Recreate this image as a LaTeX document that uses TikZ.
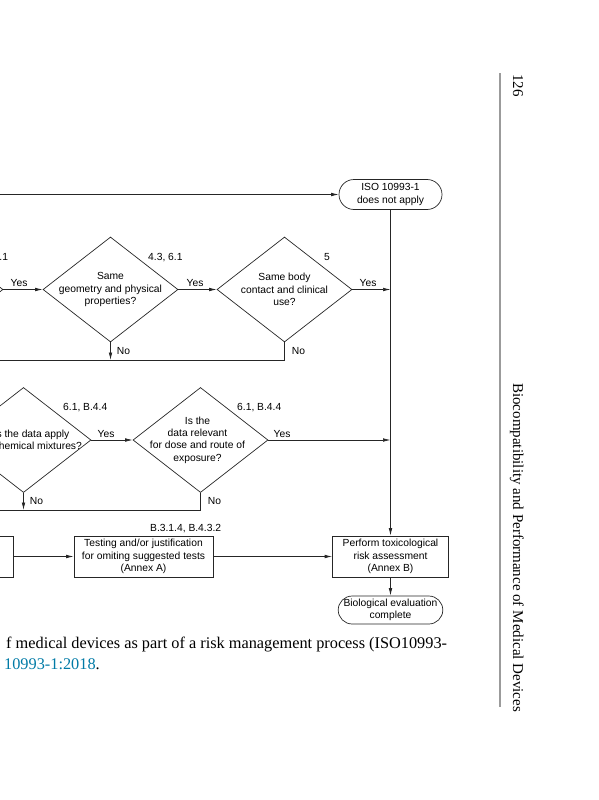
\documentclass[tikz,border=0pt]{standalone}
\usepackage{fontspec}
\setmainfont{Liberation Serif}
\newfontfamily\chartfont{Liberation Sans}
\usepackage{tikz}
\usetikzlibrary{shapes,shapes.misc,calc,positioning,arrows,arrows.meta}
\definecolor{linkblue}{RGB}{0,122,166}
\definecolor{rulegray}{RGB}{155,155,155}
\tikzstyle{line} = [line width=0.7pt, draw=black!85]
\tikzstyle{arr} = [line, -{Latex[length=7.5pt,width=3.6pt]}]
\tikzstyle{chart} = [font=\chartfont\fontsize{10.3}{12.4}\selectfont, align=center]
\tikzstyle{decision} = [diamond, line, minimum width=135pt, minimum height=105pt, inner sep=0pt]
\tikzstyle{box} = [rectangle, line, chart, minimum height=41pt, inner sep=0pt]
\tikzstyle{terminal} = [rounded rectangle, line, chart, minimum width=103pt, minimum height=30pt, inner sep=0pt]
\tikzstyle{tag} = [chart, inner sep=0pt]
\newcommand{\pgtext}{\fontsize{15}{18}\selectfont}

\begin{document}
\begin{tikzpicture}[x=1pt, y=-1pt]
		\useasboundingbox (0,0) rectangle (599,800);
		% flowchart
		\node[terminal] (notapply) at (390.5,194.5) {ISO 10993-1\\does not apply};
		\node[decision] (material) at (-64.5,289.5) {};
		\node[decision] (geometry) at (110.5,289.5) {};
		\node[chart] (geometry txt) at (geometry) {Same\\geometry and physical\\properties?};
		\node[decision] (contact) at (284.5,289.5) {};
		\node[chart] (contact txt) at (contact) {Same body\\contact and clinical\\use?};
		\node[decision] (mixture) at (23.5,440) {};
		\node[chart] (mixture txt) at (mixture) {Does the data apply\\to the chemical mixtures?};
		\node[decision] (dose) at (200.5,440) {};
		\node[chart] (dose txt) at ($(dose)+(-3,0)$) {Is the\\data relevant\\for dose and route of\\exposure?};
		\node[box, minimum width=126pt] (previous) at (-50,556.5) {};
		\node[box, minimum width=139pt] (testing) at (143.5,556.5) {Testing and/or justification\\for omiting suggested tests\\(Annex A)};
		\node[box, minimum width=116pt] (toxrisk) at (390.5,556.5) {Perform toxicological\\risk assessment\\(Annex B)};
		\node[terminal, minimum height=28pt] (complete) at (390.5,610) {Biological evaluation\\complete};
		% clause references
		\node[tag, anchor=base west] (material ref) at ($(material)+(38,-29.5)$) {4.3, 6.1};
		\node[tag, anchor=base west] (geometry ref) at ($(geometry)+(37.5,-29.5)$) {4.3, 6.1};
		\node[tag, anchor=base west] (contact ref) at ($(contact)+(39.5,-29.5)$) {5};
		\node[tag, anchor=base west] (mixture ref) at ($(mixture)+(39.5,-29.5)$) {6.1, B.4.4};
		\node[tag, anchor=base west] (dose ref) at ($(dose)+(36.5,-29.5)$) {6.1, B.4.4};
		\node[tag, anchor=base east] (testing ref) at ($(testing.north east)+(8,-4.5)$) {B.3.1.4, B.4.3.2};
		% loose ends
		\coordinate (entry) at (-20,194.5);
		\coordinate (nobar1) at (-20,360);
		\coordinate (nobar2) at (-20,510);
		\draw[arr] (entry) -- (notapply.west);
		\draw[arr] (notapply.south) -- (toxrisk.north);
		\draw[arr] (material.east) -- node[tag, pos=0, anchor=base west, xshift=7pt, yshift=3pt] {Yes} (geometry.west);
		\draw[arr] (geometry.east) -- node[tag, pos=0, anchor=base west, xshift=8pt, yshift=3pt] {Yes} (contact.west);
		\draw[arr] (contact.east) -- node[tag, pos=0, anchor=base west, xshift=7pt, yshift=3pt] {Yes} (contact.east -| notapply.south);
		\draw[arr] (mixture.east) -- node[tag, pos=0, anchor=base west, xshift=6pt, yshift=3pt] {Yes} (dose.west);
		\draw[arr] (dose.east) -- node[tag, pos=0, anchor=base west, xshift=5pt, yshift=3pt] {Yes} (dose.east -| notapply.south);
		\draw[arr] (geometry.south) -- node[tag, anchor=west, xshift=6pt] {No} (geometry.south |- nobar1);
		\draw[line] (contact.south) -- node[tag, anchor=west, xshift=7pt] {No} (contact.south |- nobar1) -- (nobar1);
		\draw[arr] (mixture.south) -- node[tag, anchor=west, xshift=6pt] {No} (mixture.south |- nobar2);
		\draw[line] (dose.south) -- node[tag, anchor=west, xshift=7pt] {No} (dose.south |- nobar2) -- (nobar2);
		\draw[arr] (previous.east) -- (testing.west);
		\draw[arr] (testing.east) -- (toxrisk.west);
		\draw[arr] (toxrisk.south) -- (complete.north);
		%\draw[line] (complete.south) -- ++(0,10);
		% page margin and caption
		\draw[rulegray, line width=1.3pt] (500,73) -- (500,707);
		\node[rotate=-90, anchor=base west, inner sep=0pt, font=\pgtext] (pagenum) at (513,74) {126};
		\node[rotate=-90, anchor=base west, inner sep=0pt, font=\pgtext] (runhead) at (513,383) {Biocompatibility and Performance of Medical Devices};
		\node[anchor=base west, inner sep=0pt, font=\fontsize{16.3}{21}\selectfont] (caption a) at (6,648) {f medical devices as part of a risk management process (ISO10993-};
		\node[anchor=base west, inner sep=0pt, font=\fontsize{16.3}{21}\selectfont] (caption b) at (4,669) {\textcolor{linkblue}{10993-1:2018}.};
	\end{tikzpicture}
\end{document}
